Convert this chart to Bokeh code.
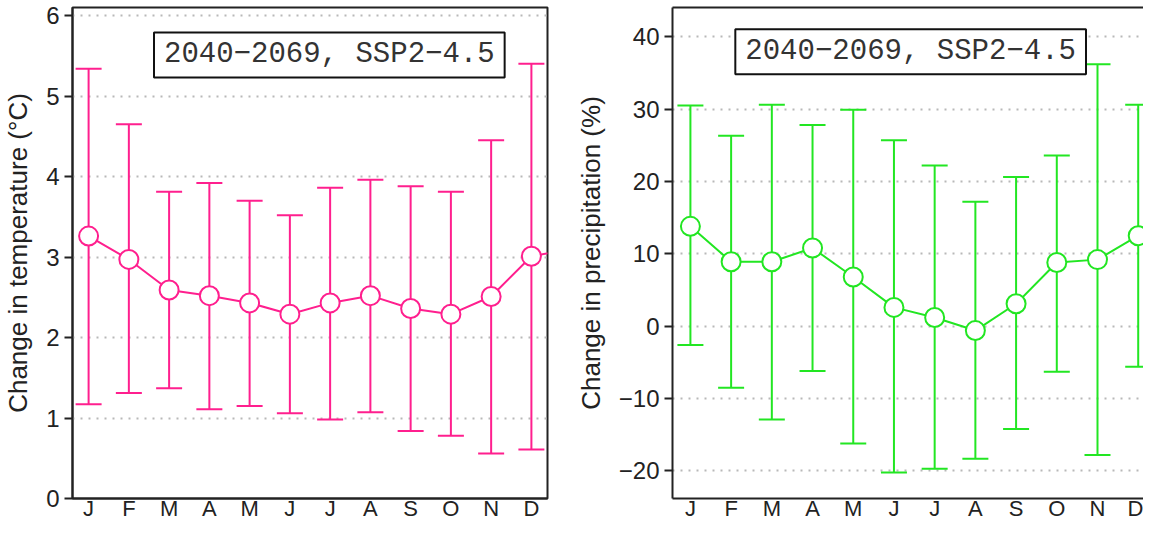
from bokeh.plotting import figure
from bokeh.models import (ColumnDataSource, Whisker, TeeHead, FixedTicker, Label,
                          Range1d, LinearAxis)
from bokeh.layouts import row
from bokeh.embed import file_html
from bokeh.resources import INLINE

# ---------------- data ----------------
months = [1, 2, 3, 4, 5, 6, 7, 8, 9, 10, 11, 12]
month_labels = ["J", "F", "M", "A", "M", "J", "J", "A", "S", "O", "N", "D"]

temp_mean = [3.26, 2.97, 2.59, 2.52, 2.43, 2.29, 2.43, 2.52, 2.36, 2.29, 2.51, 3.01]
temp_upper = [5.34, 4.65, 3.81, 3.92, 3.70, 3.52, 3.86, 3.96, 3.88, 3.81, 4.45, 5.40]
temp_lower = [1.17, 1.31, 1.37, 1.11, 1.15, 1.06, 0.98, 1.07, 0.84, 0.78, 0.56, 0.61]
temp_next_jan = 3.10  # continuation of the line beyond December (clipped)

precip_mean = [13.8, 8.9, 8.9, 10.8, 6.8, 2.6, 1.2, -0.6, 3.1, 8.8, 9.2, 12.5]
precip_upper = [30.5, 26.3, 30.6, 27.8, 29.9, 25.7, 22.2, 17.2, 20.6, 23.6, 36.2, 30.6]
precip_lower = [-2.6, -8.5, -12.9, -6.2, -16.2, -20.2, -19.7, -18.3, -14.2, -6.3, -17.8, -5.6]

temp_ticks = [0, 1, 2, 3, 4, 5, 6]
precip_ticks = [-20, -10, 0, 10, 20, 30, 40]
box_text = "2040\u22122069, SSP2\u22124.5"

PINK = "#ff1f8e"
GREEN = "#22e622"
DARK = "#222222"
FONT = "Liberation Sans"
FIG_H = 523


def style(p, ticks, ylabel, overrides=None):
    p.xgrid.visible = False
    p.ygrid.grid_line_color = "#b8b8b8"
    p.ygrid.grid_line_dash = "2 6"
    p.ygrid.grid_line_width = 2
    p.background_fill_color = "white"
    p.border_fill_color = "white"

    ya = p.yaxis[0]
    ya.ticker = FixedTicker(ticks=ticks)
    if overrides:
        ya.major_label_overrides = overrides
    ya.axis_label = ylabel
    ya.axis_label_text_font = FONT
    ya.axis_label_text_font_size = "26px"
    ya.axis_label_text_font_style = "normal"
    ya.axis_label_text_color = DARK
    ya.axis_label_standoff = 10
    ya.major_label_text_font = FONT
    ya.major_label_text_font_size = "24px"
    ya.major_label_text_color = DARK
    ya.major_label_standoff = 5
    ya.major_tick_out = 8
    ya.major_tick_in = 0
    ya.major_tick_line_width = 2
    ya.major_tick_line_color = DARK
    ya.minor_tick_out = 0
    ya.minor_tick_in = 0
    ya.axis_line_width = 2
    ya.axis_line_color = DARK

    xa = p.xaxis[0]
    xa.ticker = FixedTicker(ticks=months)
    xa.major_label_overrides = {m: l for m, l in zip(months, month_labels)}
    xa.major_label_text_font = FONT
    xa.major_label_text_font_size = "22px"
    xa.major_label_text_color = DARK
    xa.major_label_standoff = -3
    xa.axis_label = None
    xa.major_tick_out = 0
    xa.major_tick_in = 0
    xa.minor_tick_out = 0
    xa.minor_tick_in = 0
    xa.axis_line_width = 2
    xa.axis_line_color = DARK


def draw_series(p, mean, upper, lower, color, line_x, line_y):
    src = ColumnDataSource(dict(x=months, mean=mean, upper=upper, lower=lower))
    w = Whisker(source=src, base="x", upper="upper", lower="lower",
                line_color=color, line_width=2, level="underlay",
                upper_head=TeeHead(size=26, line_color=color, line_width=2),
                lower_head=TeeHead(size=26, line_color=color, line_width=2))
    p.add_layout(w)
    p.line(line_x, line_y, line_color=color, line_width=2)
    p.scatter("x", "mean", source=src, size=19, fill_color="white",
              line_color=color, line_width=2)


def box_label(x, y):
    return Label(x=x, y=y, text=box_text,
                 text_font="Liberation Mono", text_font_size="29px",
                 text_color="#333333", text_align="center",
                 text_baseline="middle", border_line_color="#111111",
                 border_line_width=2, background_fill_color="white",
                 padding=(10, 6))


# ---------------- left: temperature ----------------
left = figure(width=567, height=FIG_H,
              x_range=Range1d(0.6, 12.4), y_range=Range1d(0, 6.1),
              output_backend="svg", toolbar_location=None,
              min_border_left=67, min_border_right=20, min_border_top=7,
              min_border_bottom=22)
style(left, temp_ticks, "Change in temperature (\u00b0C)")
left.outline_line_color = DARK
left.outline_line_width = 2
left.outline_line_alpha = 1
draw_series(left, temp_mean, temp_upper, temp_lower, PINK,
            months + [13], temp_mean + [temp_next_jan])
left.add_layout(box_label(6.98, 5.51))

# ---------------- right: precipitation ----------------
right = figure(width=576, height=FIG_H,
               x_range=Range1d(0.56, 12.13), y_range=Range1d(-23.8, 44.03),
               output_backend="svg", toolbar_location=None,
               min_border_left=105, min_border_right=0, min_border_top=3,
               min_border_bottom=22)
overrides = {t: (("\u2212" + str(-t)) if t < 0 else str(t)) for t in precip_ticks}
style(right, precip_ticks, "Change in precipitation (%)", overrides)
right.outline_line_color = None
top_axis = LinearAxis(ticker=FixedTicker(ticks=[]), major_tick_out=0,
                      major_tick_in=0, minor_tick_out=0, minor_tick_in=0,
                      major_label_standoff=0, axis_line_color=DARK,
                      axis_line_width=2)
right.add_layout(top_axis, "above")
draw_series(right, precip_mean, precip_upper, precip_lower, GREEN,
            months, precip_mean)
right.add_layout(box_label(6.41, 37.9))

layout = row(left, right)
open("out.html", "w").write(file_html(layout, INLINE))
